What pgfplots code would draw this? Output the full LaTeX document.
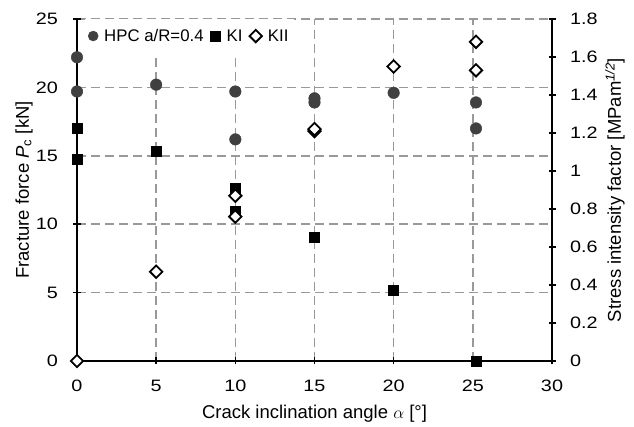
\documentclass[border=0pt]{standalone}
\usepackage{fontspec}
\setmainfont{Liberation Sans}
\newfontfamily\tickfont{Liberation Sans}[FakeStretch=1.2]
\usepackage{pgfplots}
\pgfplotsset{compat=1.18}

\definecolor{hpc}{HTML}{404040}
\definecolor{gridgray}{HTML}{999999}

\pgfplotsset{
  base/.style={
    scale only axis, width=475pt, height=342pt,
    xmin=0, xmax=30, clip=false,
    font=\fontsize{16.5}{19}\selectfont,
    tick label style={font=\tickfont\fontsize{16.5}{19}\selectfont},
    label style={font=\fontsize{18.5}{21}\selectfont},
    /pgf/number format/assume math mode=true,
    axis line style={line width=2.8pt, black},
    tick style={black, line width=1.5pt},
    major tick length=7pt, tick align=center,
  },
}

\begin{document}
\begin{tikzpicture}
\begin{axis}[base, name=main,
    ymin=0, ymax=25, ytick={0,5,...,25},
    xtick={0,5,...,30},
    axis x line*=bottom, axis y line*=left,
    xmajorgrids, ymajorgrids,
    grid style={gridgray, line width=1.5pt, dash pattern=on 9pt off 5pt},
    yticklabel style={xshift=-12pt},
    xticklabel style={yshift=-12pt},
    xlabel={Crack inclination angle $\alpha$ [°]},
    xlabel style={at={(axis description cs:0.5,0)}, anchor=center, yshift=-53pt},
    ylabel={Fracture force \textit{P}\textsubscript{c} [kN]},
    ylabel style={at={(axis description cs:0,0.5)}, anchor=center, yshift=53pt},
  ]
  % HPC a/R=0.4
  \addplot[only marks, mark=*, mark size=5.8pt, color=hpc] coordinates {
    (0,22.2) (0,19.7) (5,20.2) (10,19.7) (10,16.2)
    (15,19.2) (15,18.9) (20,19.6) (25.2,18.9) (25.2,17.0)
  };
\end{axis}
\begin{axis}[base,
    ymin=0, ymax=1.8,
    ytick={0,0.2,0.4,0.6,0.8,1,1.2,1.4,1.6,1.8},
    yticklabels={0,0.2,0.4,0.6,0.8,1,1.2,1.4,1.6,1.8},
    yticklabel style={xshift=11pt},
    axis y line*=right, axis x line=none,
    ylabel={Stress intensity factor [MPam\textsuperscript{\textit{1/2}}]},
    ylabel style={at={(axis description cs:1,0.5)}, anchor=center, yshift=-63pt},
    legend columns=3,
    legend style={at={(axis description cs:0,1)}, anchor=north west, xshift=8pt,
      draw=none, fill=white, font=\fontsize{16.8}{19}\selectfont,
      inner xsep=3pt, inner ysep=8pt},
    legend cell align=left,
    legend image code/.code={
      \draw[mark repeat=2, mark phase=2] plot coordinates {(0pt,0pt) (6pt,0pt) (12pt,0pt)};
    },
    /tikz/every odd column/.append style={column sep=4pt},
    /tikz/every even column/.append style={column sep=5pt},
  ]
  \addlegendimage{only marks, mark=*, mark size=5pt, color=hpc}
  \addlegendentry{HPC a/R=0.4}
  % KI
  \addplot[only marks, mark=square*, mark size=5pt, color=black] coordinates {
    (0,1.226) (0,1.063) (5,1.105) (10,0.91) (10,0.79)
    (15,0.65) (20,0.37) (25.2,0)
  };
  \addlegendentry{KI}
  % KII
  \addplot[only marks, mark=square*, mark size=4.4pt, draw=black, fill=white,
    line width=1.8pt, mark options={rotate=45}] coordinates {
    (0,0) (5,0.47) (10,0.87) (10,0.76) (15,1.21) (15,1.22)
    (20,1.55) (25.2,1.68) (25.2,1.53)
  };
  \addlegendentry{KII}
\end{axis}
\pgfresetboundingbox
\path[use as bounding box] (main.south west) ++(-77pt,-66pt)
  rectangle ([xshift=82pt, yshift=19pt]main.north east);
\end{tikzpicture}
\end{document}
